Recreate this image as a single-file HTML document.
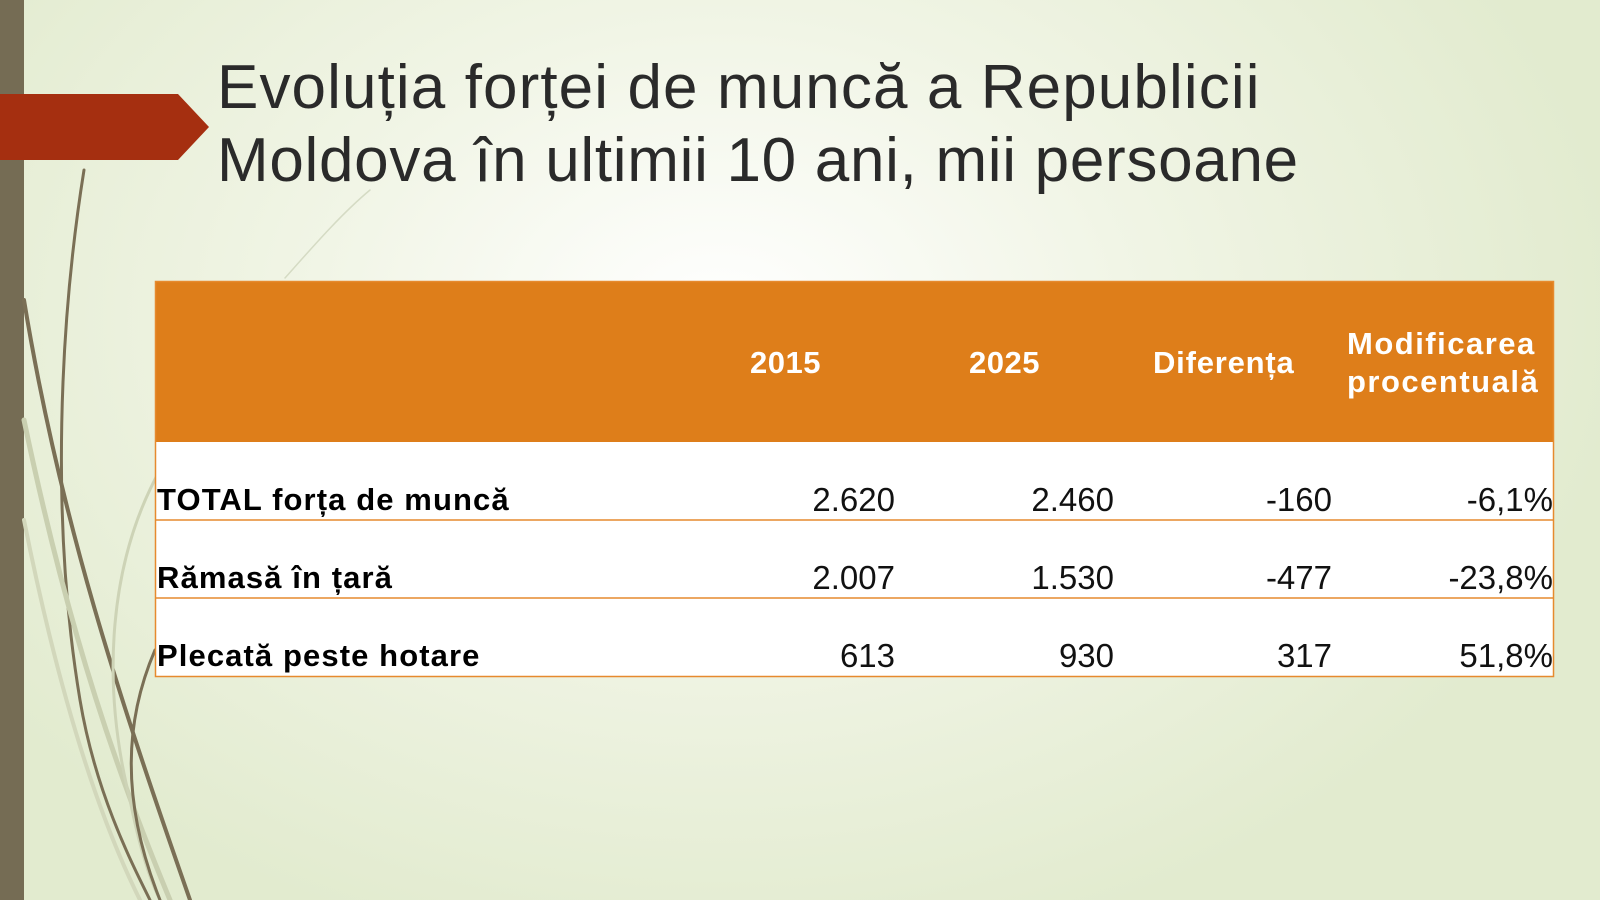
<!DOCTYPE html>
<html><head><meta charset="utf-8"><style>
html,body{margin:0;padding:0}
body{width:1600px;height:900px;position:relative;overflow:hidden;font-family:"Liberation Sans",sans-serif;
background:radial-gradient(ellipse 900px 650px at 720px 320px,#ffffff 0%,#f1f5e6 45%,#e2ebcf 100%);}
.t{position:absolute;white-space:nowrap}
.title{left:217px;font-size:62px;color:#2a2a2a}
.h{color:#fff;font-weight:bold;font-size:31px}
.r{font-size:33px;color:#111;text-align:right}
.l{font-size:31px;font-weight:bold;color:#000;left:157px;letter-spacing:1.1px}
</style></head><body>
<svg width="1600" height="900" style="position:absolute;left:0;top:0">
<rect x="0" y="0" width="24" height="900" fill="#756c54"/>
<path d="M0 94 H178 L209 127 L178 160 H0Z" fill="#a52f10"/>
<g fill="none" stroke-linecap="round">
<path d="M84 170 C60 320 50 520 80 700 C95 790 130 860 150 900" stroke="#7a6f55" stroke-width="3"/>
<path d="M24 300 C60 520 120 700 190 900" stroke="#7a6f55" stroke-width="4"/>
<path d="M24 420 C70 640 120 780 170 900" stroke="#c9cfb0" stroke-width="5"/>
<path d="M24 520 C60 700 100 820 140 900" stroke="#d2d7bb" stroke-width="4"/>
<path d="M160 470 C110 560 100 680 130 800 C140 850 150 880 160 900" stroke="#cdd3b6" stroke-width="3"/>
<path d="M155 650 C125 720 120 800 160 900" stroke="#7a6f55" stroke-width="3"/>
<path d="M285 278 C310 250 340 215 370 190" stroke="#d5dbc4" stroke-width="1.5"/>
</g>
<rect x="155" y="281" width="1399" height="161" fill="#de7e1a"/>
<rect x="155" y="442" width="1399" height="234" fill="#fff"/>
<rect x="155.5" y="281.5" width="1398" height="395" fill="none" stroke="#e68a2e" stroke-width="1.5"/>
<line x1="155" y1="520" x2="1554" y2="520" stroke="#e68a2e" stroke-width="1.5"/>
<line x1="155" y1="598" x2="1554" y2="598" stroke="#e68a2e" stroke-width="1.5"/>
</svg>
<div class="t title" style="top:52px;letter-spacing:1.1px">Evoluția forței de muncă a Republicii</div>
<div class="t title" style="top:125px;letter-spacing:0.7px">Moldova în ultimii 10 ani, mii persoane</div>

<div class="t h" style="left:750px;top:345px;letter-spacing:0.5px">2015</div>
<div class="t h" style="left:969px;top:345px;letter-spacing:0.5px">2025</div>
<div class="t h" style="left:1153px;top:345px;letter-spacing:0.8px">Diferența</div>
<div class="t h" style="left:1347px;top:326px;letter-spacing:1.5px">Modificarea</div>
<div class="t h" style="left:1347px;top:364px;letter-spacing:1.5px">procentuală</div>

<div class="t l" style="top:482px">TOTAL forța de muncă</div>
<div class="t l" style="top:560px">Rămasă în țară</div>
<div class="t l" style="top:638px">Plecată peste hotare</div>

<div class="t r" style="right:705px;top:481px">2.620</div>
<div class="t r" style="right:486px;top:481px">2.460</div>
<div class="t r" style="right:268px;top:481px">-160</div>
<div class="t r" style="right:47px;top:481px">-6,1%</div>

<div class="t r" style="right:705px;top:559px">2.007</div>
<div class="t r" style="right:486px;top:559px">1.530</div>
<div class="t r" style="right:268px;top:559px">-477</div>
<div class="t r" style="right:47px;top:559px">-23,8%</div>

<div class="t r" style="right:705px;top:637px">613</div>
<div class="t r" style="right:486px;top:637px">930</div>
<div class="t r" style="right:268px;top:637px">317</div>
<div class="t r" style="right:47px;top:637px">51,8%</div>
</body></html>
